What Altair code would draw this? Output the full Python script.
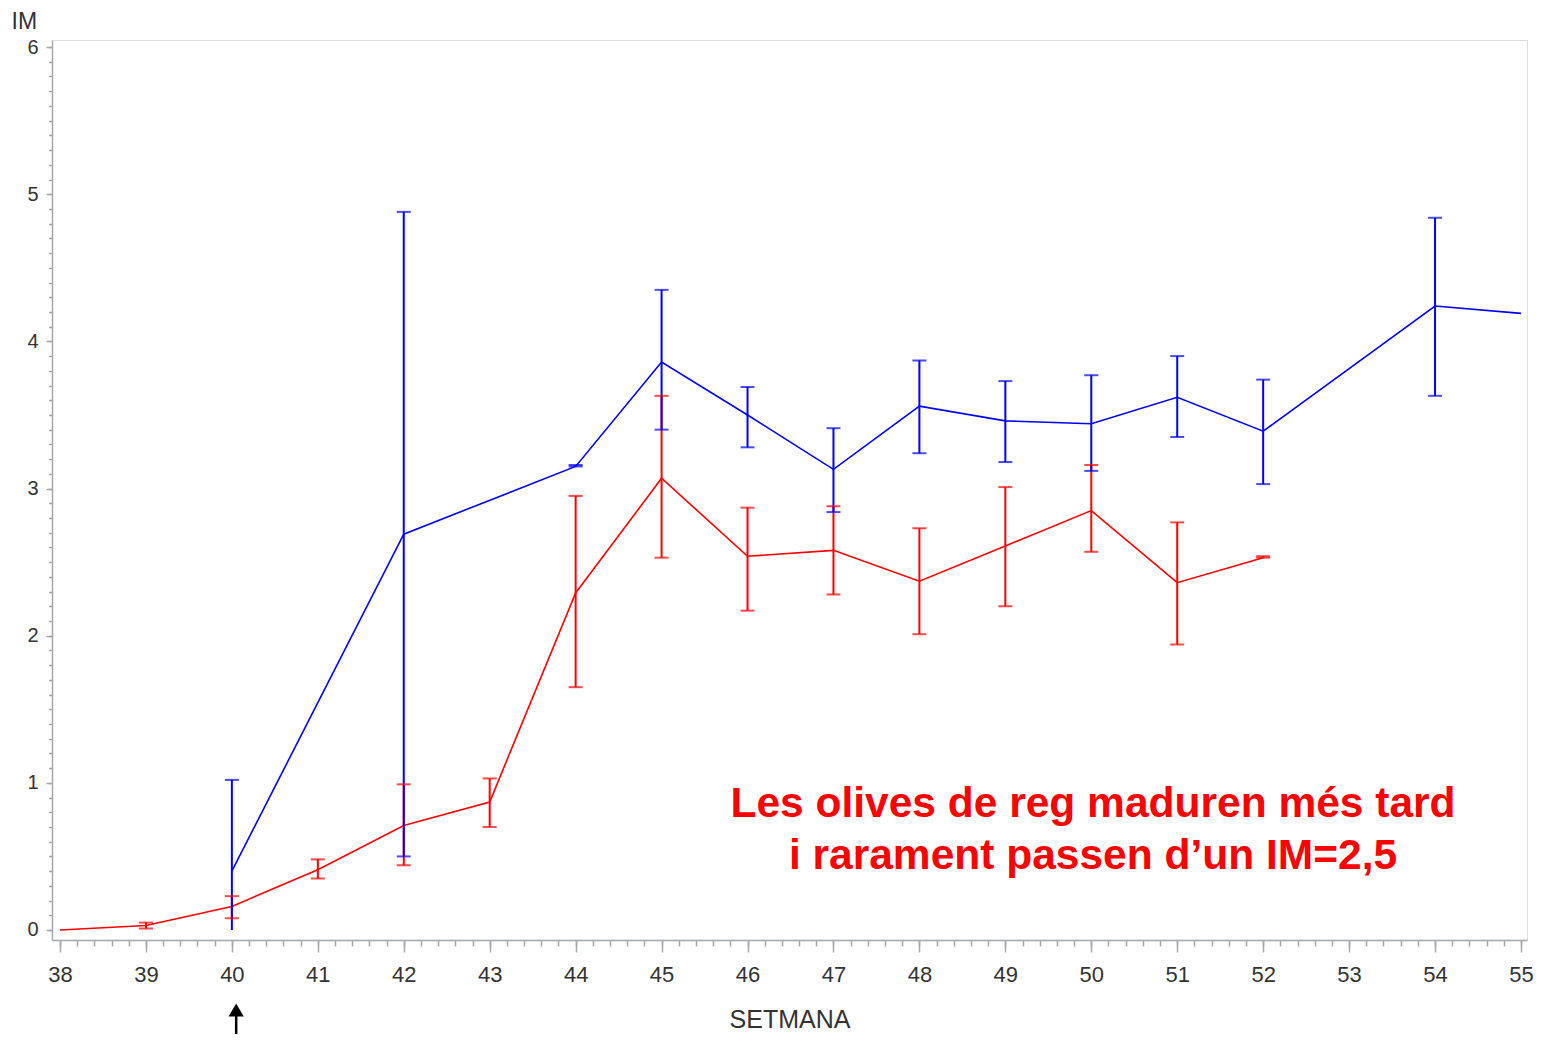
import altair as alt
import pandas as pd

# ---- data ----
red_week = [38, 39, 40, 41, 42, 43, 44, 45, 46, 47, 48, 49, 50, 51, 52]
red_im   = [0.00, 0.03, 0.16, 0.41, 0.71, 0.87, 2.29, 3.07, 2.54, 2.58, 2.37, 2.61, 2.85, 2.36, 2.53]
red_lo   = [None, 0.01, 0.08, 0.35, 0.44, 0.70, 1.65, 2.53, 2.17, 2.28, 2.01, 2.20, 2.57, 1.94, 2.53]
red_hi   = [None, 0.05, 0.23, 0.48, 0.99, 1.03, 2.95, 3.63, 2.87, 2.88, 2.73, 3.01, 3.16, 2.77, 2.54]

blue_week = [40, 42, 44, 45, 46, 47, 48, 49, 50, 51, 52, 54, 55]
blue_im   = [0.40, 2.69, 3.15, 3.86, 3.50, 3.13, 3.56, 3.46, 3.44, 3.62, 3.39, 4.24, 4.19]
blue_lo   = [0.00, 0.50, 3.15, 3.40, 3.28, 2.84, 3.24, 3.18, 3.12, 3.35, 3.03, 3.63, None]
blue_hi   = [1.02, 4.88, 3.16, 4.35, 3.69, 3.41, 3.87, 3.73, 3.77, 3.90, 3.74, 4.84, None]

x_major = list(range(38, 56))
x_minor = [round(38 + i * 0.2, 2) for i in range(0, 86)]
y_major = [0, 1, 2, 3, 4, 5, 6]
y_minor = [round(i * 0.1, 2) for i in range(0, 61)]

note_text = "Les olives de reg maduren més tard\ni rarament passen d’un IM=2,5"
arrow_week = 40.05

# ---- tables ----
def series(name, wk, im, lo, hi):
    return pd.DataFrame({"week": wk, "im": im, "lo": lo, "hi": hi, "grp": name})

df = pd.concat([series("reg", red_week, red_im, red_lo, red_hi),
                series("secà", blue_week, blue_im, blue_lo, blue_hi)], ignore_index=True)
err = df.dropna(subset=["lo", "hi"])
caps = pd.concat([
    err[["week", "grp", "hi"]].rename(columns={"hi": "v"}),
    err[err["lo"] > 0][["week", "grp", "lo"]].rename(columns={"lo": "v"}),
], ignore_index=True)

FONT = "Liberation Sans"
GREY = "#a3a8ad"
TXT = "#333333"

xs = alt.Scale(domain=[37.907, 55.07], nice=False, zero=False)
ys = alt.Scale(domain=[-0.068, 6.048], nice=False, zero=False)
col = alt.Scale(domain=["reg", "secà"], range=["#ff0000", "#0000ff"])

x_axis = alt.Axis(values=x_major, orient="bottom", tickSize=12, tickColor=GREY, domainColor=GREY,
                  domainWidth=1.5, tickWidth=1.5, labelFont=FONT, labelFontSize=22, labelColor=TXT,
                  labelPadding=12, grid=False, title="SETMANA", titleFont=FONT, titleFontSize=25,
                  titleFontWeight="normal", titleColor=TXT, titlePadding=22, format="d")
y_axis = alt.Axis(values=y_major, orient="left", tickSize=6, tickColor=GREY, domainColor=GREY,
                  domainWidth=1.5, tickWidth=1.5, labelFont=FONT, labelFontSize=20, labelColor=TXT,
                  labelPadding=8, grid=False, title="IM", titleFont=FONT, titleFontSize=23,
                  titleFontWeight="normal", titleColor=TXT, titleAngle=0, titleAlign="left",
                  titleBaseline="alphabetic", titleX=-41, titleY=-12, format="d")

line = alt.Chart(df).mark_line(strokeWidth=1.6).encode(
    x=alt.X("week:Q", scale=xs, axis=x_axis),
    y=alt.Y("im:Q", scale=ys, axis=y_axis),
    color=alt.Color("grp:N", scale=col, legend=None),
    detail="grp:N",
)

bars = alt.Chart(err).mark_rule(strokeWidth=2).encode(
    x=alt.X("week:Q", scale=xs, axis=None),
    y=alt.Y("lo:Q", scale=ys, axis=None),
    y2="hi:Q",
    color=alt.Color("grp:N", scale=col, legend=None),
)

capm = alt.Chart(caps).mark_tick(orient="horizontal", thickness=2, size=14).encode(
    x=alt.X("week:Q", scale=xs, axis=None),
    y=alt.Y("v:Q", scale=ys, axis=None),
    color=alt.Color("grp:N", scale=col, legend=None),
)

# minor ticks
minor_x = alt.Chart(pd.DataFrame({"w": [38]})).mark_point(opacity=0).encode(
    x=alt.X("w:Q", scale=xs, axis=alt.Axis(values=x_minor, orient="bottom", tickSize=6,
                                           tickColor=GREY, tickWidth=1.5, labels=False,
                                           domain=False, grid=False, title=None)),
)
minor_y = alt.Chart(pd.DataFrame({"v": [0]})).mark_point(opacity=0).encode(
    y=alt.Y("v:Q", scale=ys, axis=alt.Axis(values=y_minor, orient="left", tickSize=3.5,
                                           tickColor=GREY, tickWidth=1.5, labels=False,
                                           domain=False, grid=False, title=None)),
)

note = alt.Chart(pd.DataFrame({"t": [note_text]})).mark_text(
    font=FONT, fontSize=42.5, fontWeight="bold", color="#ff0000", align="center",
    baseline="alphabetic", lineBreak="\n", lineHeight=52,
).encode(
    x=alt.datum(50.02, scale=xs, axis=None),
    y=alt.datum(0.765, scale=ys, axis=None),
    text="t:N",
)

arrow_shaft = alt.Chart(pd.DataFrame({"w": [arrow_week]})).mark_rule(
    color="black", strokeWidth=2.5, clip=False).encode(
    x=alt.X("w:Q", scale=xs, axis=None),
    y=alt.value(972), y2=alt.value(994),
)
arrow_head = alt.Chart(pd.DataFrame({"w": [arrow_week]})).mark_point(
    shape="triangle-up", filled=True, color="black", size=230, opacity=1, clip=False).encode(
    x=alt.X("w:Q", scale=xs, axis=None),
    y=alt.value(970),
)

chart = alt.layer(minor_x, minor_y, line, bars, capm, note, arrow_shaft, arrow_head).resolve_axis(
    x="independent", y="independent"
).properties(
    width=1475, height=900,
    padding={"left": 44, "top": 32, "right": 8, "bottom": 94},
    autosize=alt.AutoSizeParams(type="none"),
).configure_view(stroke=GREY, strokeWidth=1.5).configure(background="white")

chart.save("out.html", embed_options={"renderer": "svg", "actions": False})
